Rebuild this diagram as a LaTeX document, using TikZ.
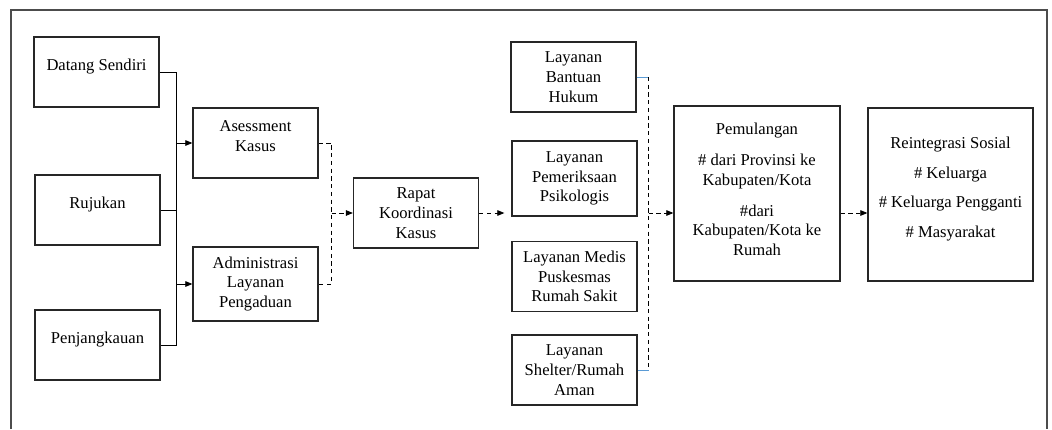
\documentclass[tikz,border=0pt]{standalone}
\usepackage{fontspec}
\setmainfont{Liberation Serif}
\usetikzlibrary{positioning, arrows.meta, calc}

\definecolor{linkblue}{RGB}{91,155,213}

\begin{document}
\begin{tikzpicture}[
    x=0.025cm, y=-0.025cm,
    font=\fontsize{11.8}{14}\selectfont,
    block/.style={rectangle, draw=black!85, line width=0.9pt, minimum width=3.125cm, minimum height=1.75cm, align=center, inner sep=2pt},
    raised/.style={text depth=10pt},
    bigblock/.style={block, minimum width=4.15cm, minimum height=4.35cm},
    bus/.style={draw, line width=0.6pt},
    dbus/.style={bus, dash pattern=on 3pt off 2.5pt},
    line/.style={draw, -{Triangle[length=5pt, width=4pt]}, line width=0.6pt},
    dline/.style={line, dash pattern=on 3pt off 2.5pt},
    blueline/.style={draw=linkblue, line width=0.6pt}
]

    \useasboundingbox (0,0) rectangle (1052,429);

    %% FRAME
    \draw [black!70, line width=1pt] (11,429) |- (1047,10) -- (1047,429);

    %% SOURCES
    \node [block, raised] (datang) at (96.5,72) {Datang Sendiri};
    \node [block, raised] (rujukan) at (97.5,210) {Rujukan};
    \node [block, raised] (penjangkauan) at (97.5,345) {Penjangkauan};

    %% INTAKE
    \node [block, raised] (asessment) at (255.5,143) {Asessment\\Kasus};
    \node [block, minimum height=1.85cm] (administrasi) at (255.5,284) {Administrasi\\Layanan\\Pengaduan};

    \node [block] (rapat) at (416,213) {Rapat\\Koordinasi\\Kasus};

    %% SERVICES
    \node [block] (bantuan) at (573.5,77) {Layanan\\Bantuan\\Hukum};
    \node [block, minimum height=1.875cm] (psikologis) at (574.5,178.5) {Layanan\\Pemeriksaan\\Psikologis};
    \node [block] (medis) at (574.5,276.5) {Layanan Medis\\Puskesmas\\Rumah Sakit};
    \node [block] (shelter) at (574.5,370) {Layanan\\Shelter/Rumah\\Aman};

    %% FOLLOW UP
    \node [bigblock, minimum height=4.375cm, text depth=6pt] (pemulangan) at (757,193.5)
        {Pemulangan\\[8pt]\# dari Provinsi ke\\Kabupaten/Kota\\[8pt]\#dari\\Kabupaten/Kota ke\\Rumah};
    \node [bigblock, raised, minimum width=4.125cm, minimum height=4.325cm] (reintegrasi) at (950.5,194.5)
        {Reintegrasi Sosial\\[7pt]\# Keluarga\\[7pt]\# Keluarga Pengganti\\[7pt]\# Masyarakat};

    % Sources to intake
    \coordinate (srcbus) at ($(datang.east)+(17,0)$);
    \draw [bus] (datang.east) -- (srcbus) -- (srcbus |- penjangkauan.east) -- (penjangkauan.east);
    \draw [bus] (rujukan.east) -- (rujukan.east -| srcbus);
    \path [line] (srcbus |- asessment.west) -- (asessment.west);
    \path [line] (srcbus |- administrasi.west) -- (administrasi.west);

    % Intake to meeting
    \coordinate (intakebus) at ($(asessment.east)+(13,0)$);
    \draw [dbus] (asessment.east) -- (intakebus) -- (intakebus |- administrasi.east) -- (administrasi.east);
    \path [dline] (intakebus |- rapat.west) -- (rapat.west);

    % Meeting to services
    \path [dline, shorten >=5pt] (rapat.east) -- (rapat.east -| psikologis.west);

    % Services to follow up
    \coordinate (servbus) at ($(bantuan.east)+(12,0)$);
    \draw [blueline] (bantuan.east) -- (servbus);
    \draw [blueline] (shelter.east) -- (shelter.east -| servbus);
    \draw [dbus] (servbus) -- (servbus |- shelter.east);
    \path [dline] (servbus |- rapat.east) -- (pemulangan.west |- rapat.east);
    \path [dline] (pemulangan.east |- rapat.east) -- (reintegrasi.west |- rapat.east);

\end{tikzpicture}
\end{document}
